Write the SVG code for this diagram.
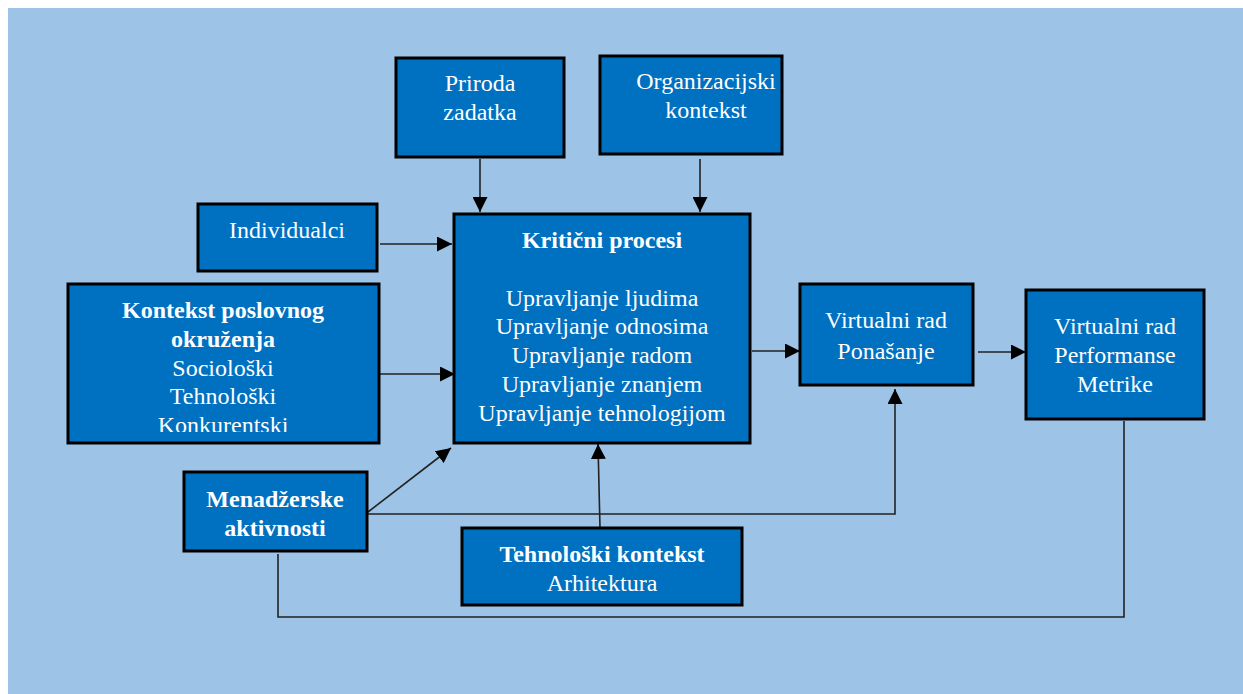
<svg xmlns="http://www.w3.org/2000/svg" width="1243" height="694" viewBox="0 0 1243 694">
<defs>
<style>
.box{fill:#0070C0;stroke:#000;stroke-width:3}
.t{font-family:'Liberation Serif','Times New Roman',Times,serif;font-size:24px;fill:#fff;text-anchor:middle}
.b{font-weight:bold}
.ln{fill:none;stroke:#222;stroke-width:1.6}
</style>
<marker id="ah" viewBox="0 0 10 10" refX="10" refY="5" markerWidth="15" markerHeight="15" markerUnits="userSpaceOnUse" orient="auto">
<path d="M0,0 L10,5 L0,10 z" fill="#000"/>
</marker>
<clipPath id="kclip"><rect x="60" y="280" width="330" height="152"/></clipPath>
</defs>
<rect x="0" y="0" width="1243" height="694" fill="#fff"/>
<rect x="8" y="8" width="1235" height="686" fill="#9DC3E6"/>

<g id="connectors">
<line class="ln" x1="480" y1="159" x2="480" y2="212" marker-end="url(#ah)"/>
<line class="ln" x1="700" y1="159" x2="700" y2="212" marker-end="url(#ah)"/>
<line class="ln" x1="380" y1="244" x2="452" y2="244" marker-end="url(#ah)"/>
<line class="ln" x1="380" y1="374" x2="455" y2="374" marker-end="url(#ah)"/>
<line class="ln" x1="368" y1="512" x2="451" y2="448" marker-end="url(#ah)"/>
<polyline class="ln" points="368,514 895,514 895,389" marker-end="url(#ah)"/>
<line class="ln" x1="600" y1="528" x2="598" y2="444" marker-end="url(#ah)"/>
<line class="ln" x1="752" y1="351" x2="800" y2="351" marker-end="url(#ah)"/>
<line class="ln" x1="978" y1="352" x2="1026" y2="352" marker-end="url(#ah)"/>
<polyline class="ln" points="278,554 278,617 1124,617 1124,421"/>
</g>

<g id="priroda">
<rect class="box" x="396" y="58" width="168" height="99"/>
<text class="t" x="480" y="91">Priroda</text>
<text class="t" x="480" y="120">zadatka</text>
</g>

<g id="organizacijski">
<rect class="box" x="600" y="56" width="182" height="98"/>
<text class="t" x="706" y="89">Organizacijski</text>
<text class="t" x="706" y="118">kontekst</text>
</g>

<g id="individualci">
<rect class="box" x="198" y="204" width="179" height="67"/>
<text class="t" x="287" y="238">Individualci</text>
</g>

<g id="kontekst-poslovnog">
<rect class="box" x="68" y="284" width="311" height="159"/>
<g clip-path="url(#kclip)">
<text class="t b" x="223" y="318">Kontekst poslovnog</text>
<text class="t b" x="223" y="347">okruženja</text>
<text class="t" x="223" y="376">Sociološki</text>
<text class="t" x="223" y="404">Tehnološki</text>
<text class="t" x="223" y="433">Konkurentski</text>
</g>
</g>

<g id="kriticni">
<rect class="box" x="454" y="214" width="296" height="229"/>
<text class="t b" x="602" y="248">Kritični procesi</text>
<text class="t" x="602" y="306">Upravljanje ljudima</text>
<text class="t" x="602" y="334">Upravljanje odnosima</text>
<text class="t" x="602" y="363">Upravljanje radom</text>
<text class="t" x="602" y="392">Upravljanje znanjem</text>
<text class="t" x="602" y="421">Upravljanje tehnologijom</text>
</g>

<g id="menadzerske">
<rect class="box" x="184" y="472" width="183" height="79"/>
<text class="t b" x="275" y="507">Menadžerske</text>
<text class="t b" x="275" y="536">aktivnosti</text>
</g>

<g id="tehnoloski">
<rect class="box" x="462" y="528" width="280" height="77"/>
<text class="t b" x="602" y="562">Tehnološki kontekst</text>
<text class="t" x="602" y="591">Arhitektura</text>
</g>

<g id="ponasanje">
<rect class="box" x="800" y="284" width="173" height="101"/>
<text class="t" x="886" y="328">Virtualni rad</text>
<text class="t" x="886" y="359">Ponašanje</text>
</g>

<g id="performanse">
<rect class="box" x="1026" y="290" width="178" height="129"/>
<text class="t" x="1115" y="334">Virtualni rad</text>
<text class="t" x="1115" y="363">Performanse</text>
<text class="t" x="1115" y="392">Metrike</text>
</g>
</svg>
